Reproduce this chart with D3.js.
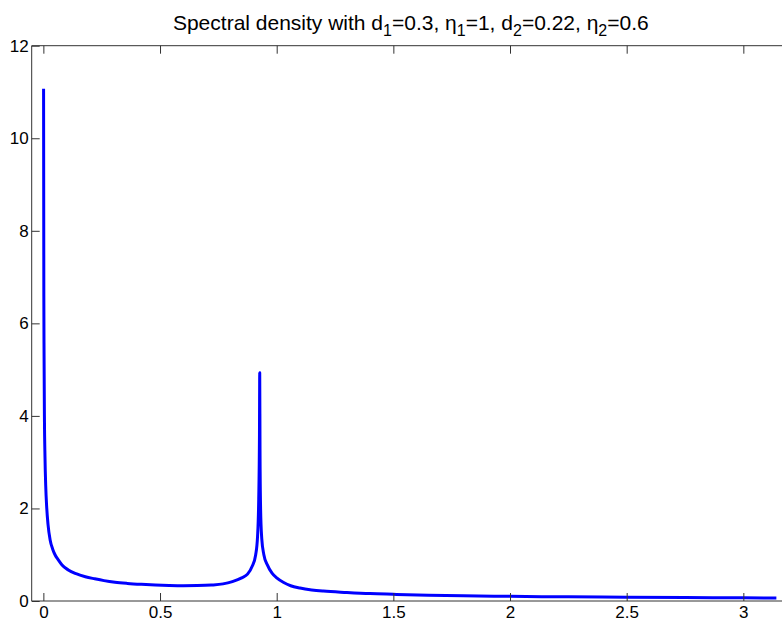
<!DOCTYPE html>
<html>
<head>
<meta charset="utf-8">
<script src="https://cdn.jsdelivr.net/npm/d3@7/dist/d3.min.js"></script>
<style>
  body { margin: 0; background: #fff; }
  svg { display: block; font-family: "Liberation Sans", Arial, sans-serif; }
</style>
</head>
<body>
<div id="chart"></div>
<script>
// frequency (lambda) and spectral density
const lambda = [0.0009, 0.002, 0.003, 0.0045, 0.007, 0.01, 0.0146, 0.02, 0.029, 0.04, 0.05, 0.064, 0.08,
    0.107, 0.14, 0.18, 0.22, 0.26, 0.307, 0.36, 0.42, 0.48, 0.54, 0.6, 0.66, 0.72, 0.77, 0.81, 0.85,
    0.875, 0.895, 0.91, 0.918, 0.923, 0.9262, 0.9273, 0.9285, 0.931, 0.936, 0.945, 0.96, 0.98, 1.0,
    1.03, 1.06, 1.1, 1.15, 1.2, 1.3, 1.4, 1.5, 1.65, 1.8, 2.0, 2.25, 2.5, 2.75, 3.0, 3.1416];
const density = [11.07, 6.6, 5.3, 4.0, 3.1, 2.5, 2.0, 1.65, 1.32, 1.12, 1.0, 0.89, 0.78,
    0.67, 0.59, 0.525, 0.48, 0.44, 0.405, 0.38, 0.36, 0.345, 0.335, 0.33, 0.333, 0.345, 0.37, 0.42, 0.5,
    0.58, 0.75, 1.0, 1.4, 2.2, 3.6, 4.93, 3.3, 2.0, 1.35, 1.0, 0.78, 0.6, 0.5,
    0.4, 0.33, 0.28, 0.24, 0.215, 0.185, 0.16, 0.145, 0.125, 0.112, 0.1, 0.09, 0.08, 0.074, 0.068, 0.066];
const xTicks = [0, 0.5, 1, 1.5, 2, 2.5, 3];
const yTicks = [0, 2, 4, 6, 8, 10, 12];

const data = lambda.map((l, i) => ({ x: l, y: density[i] }));

const W = 782, H = 624;
const plot = { left: 31.7, right: 790, top: 45.7, bottom: 601 };

const svg = d3.select("#chart").append("svg")
    .attr("width", W)
    .attr("height", H);

const x = d3.scaleLinear().domain([-0.05, 3.2]).range([plot.left, plot.right]);
const y = d3.scaleLinear().domain([0, 12]).range([plot.bottom, plot.top]);

svg.append("defs").append("clipPath").attr("id", "clip")
    .append("rect")
    .attr("x", plot.left).attr("y", plot.top)
    .attr("width", plot.right - plot.left).attr("height", plot.bottom - plot.top);

// curve
const line = d3.line()
    .x(d => x(d.x))
    .y(d => y(d.y))
    .curve(d3.curveMonotoneX);

svg.append("path")
    .datum(data)
    .attr("clip-path", "url(#clip)")
    .attr("fill", "none")
    .attr("stroke", "#0000ff")
    .attr("stroke-width", 3)
    .attr("stroke-linejoin", "round")
    .attr("d", line);

// axes (ticks inward, MATLAB style)
const fmt = d3.format("");
const axisColor = "#333";

const gx = svg.append("g")
    .attr("transform", `translate(0,${plot.bottom})`)
    .call(d3.axisBottom(x).tickValues(xTicks).tickFormat(fmt).tickSizeInner(-8).tickSizeOuter(0).tickPadding(5));

const gxTop = svg.append("g")
    .attr("transform", `translate(0,${plot.top})`)
    .call(d3.axisTop(x).tickValues(xTicks).tickFormat("").tickSizeInner(-8).tickSizeOuter(0));

const gy = svg.append("g")
    .attr("transform", `translate(${plot.left},0)`)
    .call(d3.axisLeft(y).tickValues(yTicks).tickFormat(fmt).tickSizeInner(-8).tickSizeOuter(0).tickPadding(3));

[gx, gxTop, gy].forEach(g => {
    g.select(".domain").remove();
    g.selectAll("line").attr("stroke", axisColor);
    g.selectAll("text")
        .attr("fill", "#000")
        .style("font-family", "'Liberation Sans', Arial, sans-serif")
        .style("font-size", "17px");
});

// box (left, top, bottom; right edge lies outside the window)
svg.append("path")
    .attr("fill", "none")
    .attr("stroke", axisColor)
    .attr("stroke-width", 1)
    .attr("d", `M${plot.right},${plot.top}H${plot.left}V${plot.bottom}H${plot.right}`);

// title
const title = svg.append("text")
    .attr("x", (plot.left + plot.right) / 2)
    .attr("y", 30)
    .attr("text-anchor", "middle")
    .attr("font-size", "21px")
    .attr("fill", "#000");

const parts = [
    ["Spectral density with d", 0], ["1", 1], ["=0.3, \u03b7", -1], ["1", 1], ["=1, d", -1],
    ["2", 1], ["=0.22, \u03b7", -1], ["2", 1], ["=0.6", -1]
];
parts.forEach(([t, s]) => {
    const ts = title.append("tspan").text(t);
    if (s === 1) ts.attr("dy", 6).attr("font-size", "16px");
    if (s === -1) ts.attr("dy", -6);
});
</script>
</body>
</html>
